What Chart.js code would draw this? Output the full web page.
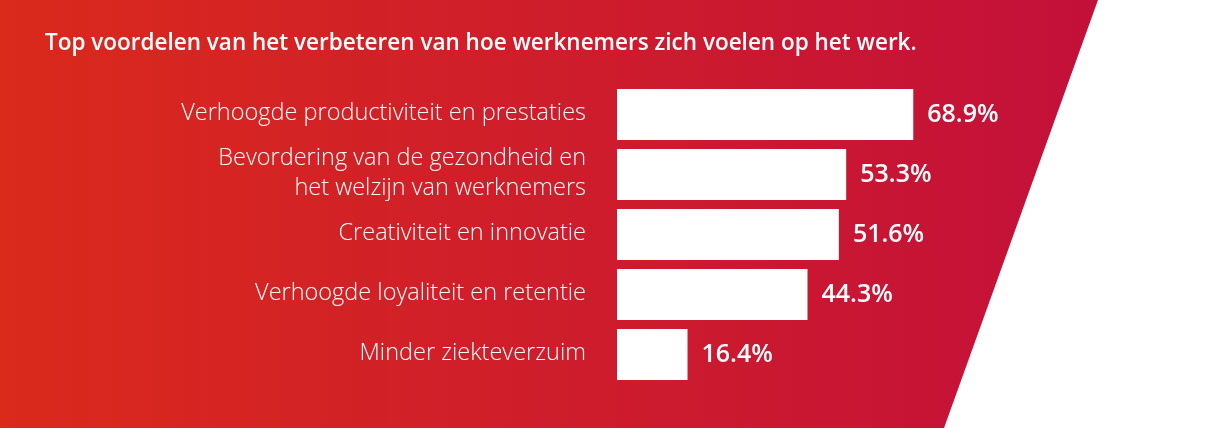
<!DOCTYPE html>
<html>
<head>
<meta charset="utf-8">
<script src="https://cdn.jsdelivr.net/npm/chart.js@4.4.1/dist/chart.umd.min.js"></script>
<style>
  html, body { margin: 0; padding: 0; background: #fff; }
  #wrap { width: 1210px; height: 428px; position: relative; }
</style>
</head>
<body>
<div id="wrap"><canvas id="chart"></canvas></div>
<script>
/* ============ DATA ============ */
const titleText = 'Top voordelen van het verbeteren van hoe werknemers zich voelen op het werk.';
const categories = [
  'Verhoogde productiviteit en prestaties',
  ['Bevordering van de gezondheid en', 'het welzijn van werknemers'],
  'Creativiteit en innovatie',
  'Verhoogde loyaliteit en retentie',
  'Minder ziekteverzuim'
];
const values = [68.9, 53.3, 51.6, 44.3, 16.4];

/* ============ PLUGINS ============ */
const FONT = "'Open Sans', 'Lato', sans-serif";

const background = {
  id: 'background',
  beforeDraw(chart) {
    const { ctx, width, height } = chart;
    ctx.save();
    ctx.fillStyle = '#fff';
    ctx.fillRect(0, 0, width, height);
    const g = ctx.createLinearGradient(0, 0, 1100, 0);
    g.addColorStop(0, '#da2a1c');
    g.addColorStop(1, '#c3103a');
    ctx.fillStyle = g;
    ctx.beginPath();
    ctx.moveTo(0, 0);
    ctx.lineTo(1098, 0);
    ctx.lineTo(944, height);
    ctx.lineTo(0, height);
    ctx.closePath();
    ctx.fill();
    ctx.restore();
  }
};

const valueLabels = {
  id: 'valueLabels',
  afterDatasetsDraw(chart) {
    const { ctx } = chart;
    const meta = chart.getDatasetMeta(0);
    ctx.save();
    ctx.fillStyle = '#fff';
    ctx.font = `600 25px ${FONT}`;
    ctx.textAlign = 'left';
    ctx.textBaseline = 'middle';
    meta.data.forEach((bar, i) => {
      ctx.fillText(values[i].toFixed(1) + '%', bar.x + 14, bar.y);
    });
    ctx.restore();
  }
};

/* ============ CHART ============ */
new Chart(document.getElementById('chart'), {
  type: 'bar',
  data: {
    labels: categories,
    datasets: [{
      data: values,
      backgroundColor: '#fff',
      borderWidth: 0,
      barPercentage: 0.85,
      categoryPercentage: 1
    }]
  },
  options: {
    indexAxis: 'y',
    responsive: true, maintainAspectRatio: false,
    animation: false,
    layout: { padding: { left: 45, right: 163, top: 0, bottom: 43.5 } },
    plugins: {
      legend: { display: false },
      tooltip: { enabled: false },
      title: {
        display: true,
        text: titleText,
        align: 'start',
        color: '#fff',
        font: { family: FONT, size: 22.5, weight: 600 },
        padding: { top: 30.5, bottom: 27 }
      }
    },
    scales: {
      x: { display: false, min: 0, max: 100 },
      y: {
        grid: { display: false },
        border: { display: false },
        afterFit(scale) { scale.width = 572; },
        ticks: {
          color: '#fff',
          padding: 23,
          autoSkip: false,
          labelOffset: -1,
          font: { family: FONT, size: 23.5, weight: 300, lineHeight: 1.3 }
        }
      }
    }
  },
  plugins: [background, valueLabels]
});
</script>
</body>
</html>
